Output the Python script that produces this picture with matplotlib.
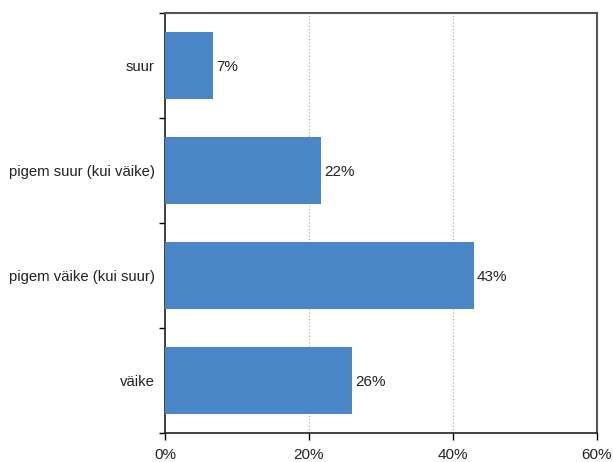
import matplotlib.pyplot as plt
import numpy as np

plt.rcParams['font.family'] = ['Liberation Sans', 'DejaVu Sans']

categories = ["suur", "pigem suur (kui väike)", "pigem väike (kui suur)", "väike"]
values = [6.7, 21.7, 42.9, 26.0]
labels = ["7%", "22%", "43%", "26%"]

fig = plt.figure(figsize=(6.13, 4.62), dpi=100)
ax = fig.add_axes([165/613, 1 - 433/462, 432/613, 420/462])

y = np.arange(len(categories))
ax.barh(y, values, height=0.64, color="#4a86c5", zorder=3)
for yi, v, lab in zip(y, values, labels):
    ax.text(v + 0.45, yi, lab, va="center_baseline", ha="left", fontsize=11, color="#222222")

ax.set_xlim(0, 60)
ax.set_ylim(len(categories) - 0.5, -0.5)
ax.set_xticks([0, 20, 40, 60])
ax.set_xticklabels(["0%", "20%", "40%", "60%"], fontsize=11, color="#222222")
ax.set_yticks(y)
ax.set_yticklabels(categories, fontsize=10.7, color="#222222", va="center_baseline")
ax.set_yticks(np.arange(-0.5, len(categories), 1.0), minor=True)
ax.tick_params(axis="y", which="major", length=0, pad=7.5)
ax.tick_params(axis="y", which="minor", length=4, width=1, direction="out")
ax.tick_params(axis="x", length=5, width=1, direction="out", pad=6)

ax.grid(axis="x", color="#aaaaaa", linestyle=(0, (1, 2)), linewidth=0.8, zorder=0)

for s in ["left", "bottom"]:
    ax.spines[s].set_color("#222222")
    ax.spines[s].set_linewidth(1.2)
for s in ["top", "right"]:
    ax.spines[s].set_color("#555555")
    ax.spines[s].set_linewidth(1.5)

fig.savefig("out.png", dpi=100)
